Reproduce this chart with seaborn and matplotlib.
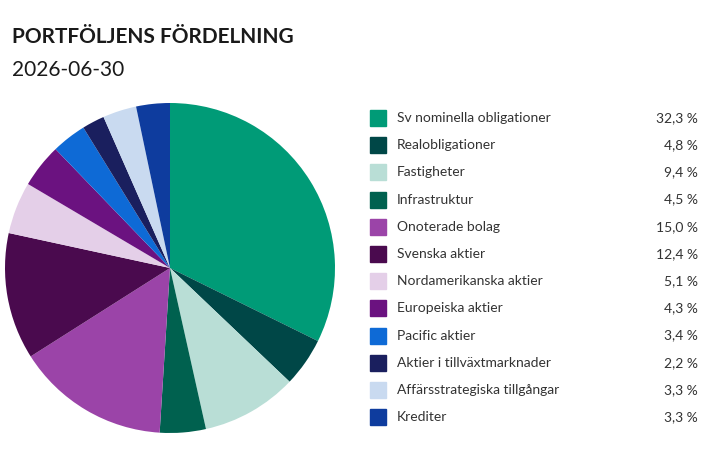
import matplotlib
matplotlib.use("Agg")
import matplotlib.pyplot as plt
import seaborn as sns
from matplotlib.patches import Rectangle

labels = ["Sv nominella obligationer", "Realobligationer", "Fastigheter", "Infrastruktur",
          "Onoterade bolag", "Svenska aktier", "Nordamerikanska aktier", "Europeiska aktier",
          "Pacific aktier", "Aktier i tillväxtmarknader", "Affärsstrategiska tillgångar", "Krediter"]
values = [32.3, 4.8, 9.4, 4.5, 15.0, 12.4, 5.1, 4.3, 3.4, 2.2, 3.3, 3.3]
value_labels = ["32,3 %", "4,8 %", "9,4 %", "4,5 %", "15,0 %", "12,4 %", "5,1 %", "4,3 %",
                "3,4 %", "2,2 %", "3,3 %", "3,3 %"]
colors = ["#009B77", "#004747", "#B9DED6", "#00614F", "#9B44A8", "#4A0A4E",
          "#E4CFE8", "#6B1280", "#0E6AD6", "#1A1F5E", "#C9DAF0", "#0E3C9E"]

sns.set_theme(style="white")
plt.rcParams['font.family'] = ['Lato', 'DejaVu Sans']

fig = plt.figure(figsize=(7.24, 4.70), dpi=100)
# pie spans roughly x 5..335, y 103..433 px
ax = fig.add_axes([5 / 724, 37 / 470, 330 / 724, 330 / 470])
ax.pie(values, colors=colors, startangle=90, counterclock=False,
       wedgeprops=dict(linewidth=0))
ax.set_xlim(-1, 1)
ax.set_ylim(-1, 1)
ax.set_aspect("equal")

fig.text(12 / 724, 1 - 37 / 470, "PORTFÖLJENS FÖRDELNING", fontsize=15, fontweight="bold",
         color="#1a1a1a", va="center")
fig.text(12 / 724, 1 - 70 / 470, "2026-06-30", fontsize=15, color="#1a1a1a", va="center")

top = 118
step = 27.2
for i, (lab, val, c) in enumerate(zip(labels, value_labels, colors)):
    y = 1 - (top + i * step) / 470
    fig.patches.append(Rectangle((370 / 724, y - 8 / 470), 16 / 724, 16 / 470,
                                 transform=fig.transFigure, color=c))
    fig.text(397 / 724, y, lab, fontsize=10, color="#333333", va="center")
    fig.text(698 / 724, y, val, fontsize=10, color="#333333", va="center", ha="right")

fig.savefig("out.png", dpi=100)
